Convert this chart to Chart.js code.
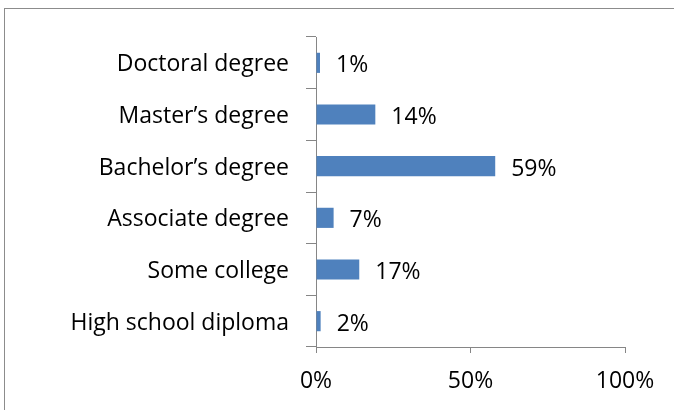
<!DOCTYPE html>
<html>
<head>
<meta charset="utf-8">
<script src="https://cdn.jsdelivr.net/npm/chart.js@4"></script>
<style>
  html, body { margin: 0; padding: 0; background: #fff; }
  #wrap { position: relative; width: 674px; height: 410px; overflow: hidden; }
  #frame { position: absolute; left: 4px; top: 8px; width: 700px; height: 440px; border: 1px solid #8c8c8c; }
  #chart { position: absolute; left: 0; top: 0; }
</style>
</head>
<body>
<div id="wrap">
  <div id="frame"></div>
  <canvas id="chart" width="674" height="410"></canvas>
</div>
<script>
// categories, top to bottom
const categories = ['Doctoral degree', 'Master\u2019s degree', 'Bachelor\u2019s degree', 'Associate degree', 'Some college', 'High school diploma'];
// bar lengths as drawn (percent)
const barValues = [1.3, 19.2, 58, 5.7, 14, 1.5];
// value labels printed next to the bars
const valueLabels = ['1%', '14%', '59%', '7%', '17%', '2%'];
const xTicks = [0, 50, 100];

const FONT = '"Open Sans", sans-serif';
const FONT_SIZE = 23;
const axisColor = '#868686';

// draws the text labels to the right of each bar
const barLabels = {
    id: 'barLabels',
    afterDatasetsDraw(chart) {
        const ctx = chart.ctx;
        const meta = chart.getDatasetMeta(0);
        ctx.save();
        ctx.font = FONT_SIZE + 'px ' + FONT;
        ctx.fillStyle = '#000';
        ctx.textBaseline = 'middle';
        ctx.textAlign = 'left';
        meta.data.forEach((bar, i) => {
            ctx.fillText(valueLabels[i], bar.x + 16, bar.y + 3);
        });
        ctx.restore();
    }
};

new Chart(document.getElementById('chart').getContext('2d'), {
    type: 'bar',
    data: {
        labels: categories,
        datasets: [{
            data: barValues,
            backgroundColor: '#4F81BD',
            borderWidth: 0,
            categoryPercentage: 1,
            barPercentage: 0.39
        }]
    },
    options: {
        indexAxis: 'y',
        responsive: false,
        animation: false,
        devicePixelRatio: 1,
        layout: { padding: { left: 0, top: 37, right: 49, bottom: 0 } },
        plugins: {
            legend: { display: false },
            tooltip: { enabled: false }
        },
        scales: {
            x: {
                min: 0,
                max: 100,
                afterBuildTicks(scale) {
                    scale.ticks = xTicks.map(v => ({ value: v }));
                },
                afterFit(scale) { scale.height = 63; },
                grid: { drawOnChartArea: false, color: axisColor, tickLength: 6, lineWidth: 1 },
                border: { color: axisColor, width: 1 },
                ticks: {
                    color: '#000',
                    font: { family: FONT, size: FONT_SIZE },
                    padding: 15,
                    maxRotation: 0,
                    callback: v => v + '%'
                }
            },
            y: {
                afterFit(scale) { scale.width = 316; },
                grid: { drawOnChartArea: false, color: axisColor, tickLength: 10, offset: true },
                border: { color: axisColor, width: 1 },
                ticks: {
                    color: '#000',
                    font: { family: FONT, size: FONT_SIZE },
                    padding: 17,
                    labelOffset: 2
                }
            }
        }
    },
    plugins: [barLabels]
});
</script>
</body>
</html>
